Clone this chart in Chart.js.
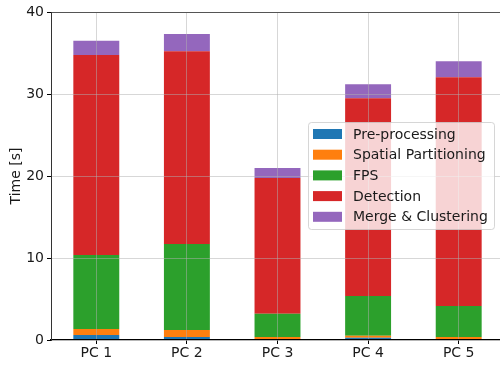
<!DOCTYPE html>
<html>
<head>
<meta charset="utf-8">
<script src="https://cdn.jsdelivr.net/npm/chart.js@4/dist/chart.umd.min.js"></script>
<style>
  html, body { margin: 0; padding: 0; background: #fff; overflow: hidden; }
  #wrap { width: 500px; height: 365px; overflow: hidden; }
  #wrap div { width: 506px; height: 365px; }
</style>
</head>
<body>
<div id="wrap"><div><canvas id="timeChart"></canvas></div></div>
<script>
// Категории и значения (секунды)
const machines = ['PC 1', 'PC 2', 'PC 3', 'PC 4', 'PC 5'];
const preprocessing = [0.6, 0.37, 0.12, 0.27, 0.12];
const partitioning = [0.74, 0.85, 0.25, 0.25, 0.25];
const fps = [9.03, 10.5, 2.84, 4.85, 3.78];
const detection = [24.4, 23.5, 16.55, 24.1, 27.9];
const merging = [1.71, 2.1, 1.22, 1.72, 1.95];
const yTicks = [0, 10, 20, 30, 40];

const FONT = 'DejaVu Sans';

// Легенда в стиле matplotlib: полупрозрачный фон поверх всего
const boxLegend = {
    id: 'boxLegend',
    afterDraw(chart) {
        const c = chart.ctx;
        const x = 308.5, y = 122.5, w = 186, h = 107;
        c.save();
        c.fillStyle = 'rgba(255,255,255,0.8)';
        c.strokeStyle = 'rgba(204,204,204,0.8)';
        c.lineWidth = 1;
        c.beginPath();
        c.roundRect(x, y, w, h, 3);
        c.fill();
        c.stroke();
        c.font = '14px "' + FONT + '"';
        c.textBaseline = 'middle';
        chart.data.datasets.forEach((ds, i) => {
            const cy = 134 + i * 20.7;
            c.fillStyle = ds.backgroundColor;
            c.fillRect(313, cy - 5, 29, 10);
            c.fillStyle = '#1a1a1a';
            c.fillText(ds.label, 353, cy + 1);
        });
        c.restore();
    }
};

const gridColor = 'rgba(176,176,176,0.5)';

new Chart(document.getElementById('timeChart'), {
    type: 'bar',
    data: {
        labels: machines,
        datasets: [
            { label: 'Pre-processing', data: preprocessing, backgroundColor: '#1f77b4' },
            { label: 'Spatial Partitioning', data: partitioning, backgroundColor: '#ff7f0e' },
            { label: 'FPS', data: fps, backgroundColor: '#2ca02c' },
            { label: 'Detection', data: detection, backgroundColor: '#d62728' },
            { label: 'Merge & Clustering', data: merging, backgroundColor: '#9467bd' }
        ]
    },
    options: {
        responsive: true,
        maintainAspectRatio: false,
        animation: false,
        layout: { padding: { top: 12, right: 2, left: 0, bottom: 0 } },
        datasets: { bar: { barPercentage: 0.507, categoryPercentage: 1, borderWidth: 0 } },
        plugins: {
            legend: { display: false },
            tooltip: { enabled: false }
        },
        scales: {
            x: {
                stacked: true,
                offset: true,
                grid: { z: 1, offset: false, color: gridColor, tickColor: '#000', tickLength: 4 },
                border: { z: 1, color: '#000', width: 1.2 },
                ticks: { color: '#1a1a1a', font: { family: FONT, size: 14 }, padding: 1 },
                afterFit: s => { s.height = 25; }
            },
            y: {
                stacked: true,
                min: 0,
                max: 40,
                afterBuildTicks: s => { s.ticks = yTicks.map(v => ({ value: v })); },
                grid: {
                    z: 1,
                    color: c => c.tick && c.tick.value === 40 ? '#555' : gridColor,
                    tickColor: '#000',
                    tickLength: 4
                },
                border: { z: 1, color: '#333', width: 1 },
                ticks: { color: '#1a1a1a', font: { family: FONT, size: 14 }, padding: 3 },
                title: { display: true, text: 'Time [s]', color: '#1a1a1a', font: { family: FONT, size: 14 }, padding: { top: 8, bottom: 0 } },
                afterFit: s => { s.width = 51; }
            }
        }
    },
    plugins: [boxLegend]
});
</script>
</body>
</html>
